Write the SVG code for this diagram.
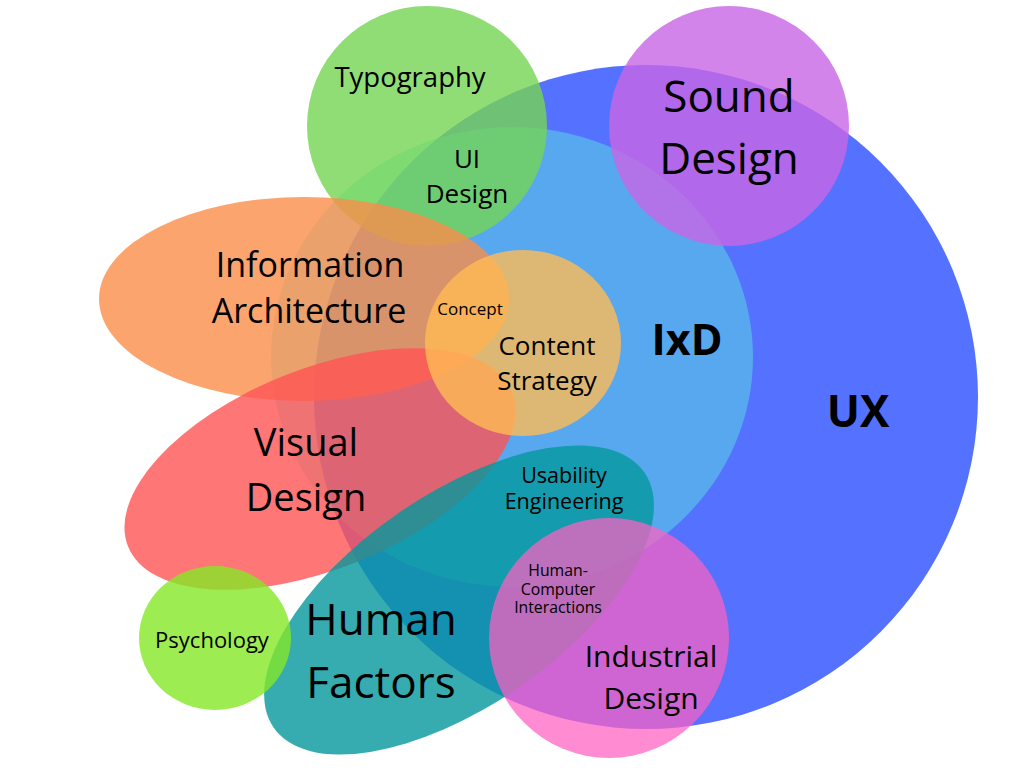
<svg xmlns="http://www.w3.org/2000/svg" width="1024" height="768" viewBox="0 0 1024 768">
<style>
text{font-family:"Open Sans","Liberation Sans",sans-serif;fill:#000;text-anchor:middle}
.b{font-weight:bold}
.ov{opacity:0.8}
</style>
<rect width="1024" height="768" fill="#fff"/>
<g id="ux">
<circle cx="646" cy="397" r="332" fill="#5472FF"/>
<text class="b" x="858" y="427" font-size="44">UX</text>
</g>
<g id="ixd">
<ellipse cx="512" cy="357" rx="241" ry="230" fill="#5CDEE1" opacity="0.5"/>
<text class="b" x="687" y="355" font-size="43">IxD</text>
</g>
<g id="typography">
<circle class="ov" cx="427" cy="126" r="120" fill="#74D452"/>
<text x="410" y="87" font-size="27.5">Typography</text>
</g>
<g id="sound-design">
<circle class="ov" cx="729" cy="126" r="120" fill="#C865E5"/>
<text x="729" y="112" font-size="44">Sound</text>
<text x="729" y="174" font-size="44">Design</text>
</g>
<g id="information-architecture">
<ellipse class="ov" cx="304" cy="299" rx="205" ry="102" fill="#FA8D4A"/>
<text x="310" y="277" font-size="34">Information</text>
<text x="309" y="323" font-size="34">Architecture</text>
</g>
<g id="visual-design">
<ellipse class="ov" cx="320" cy="469" rx="207" ry="100" transform="rotate(-22 320 469)" fill="#FF5454"/>
<text x="306" y="456" font-size="38">Visual</text>
<text x="306" y="511" font-size="38">Design</text>
</g>
<g id="content-strategy">
<ellipse class="ov" cx="523" cy="343" rx="98" ry="93" fill="#FFBC55"/>
<text x="547" y="355" font-size="26">Content</text>
<text x="547" y="390" font-size="26">Strategy</text>
</g>
<g id="human-factors">
<ellipse class="ov" cx="459" cy="600" rx="225" ry="106" transform="rotate(-34.5 459 600)" fill="#04979C"/>
<text x="381" y="635" font-size="44">Human</text>
<text x="381" y="698" font-size="44">Factors</text>
</g>
<g id="psychology">
<ellipse class="ov" cx="215" cy="638" rx="76" ry="72" fill="#84E827"/>
<text x="212" y="648" font-size="22">Psychology</text>
</g>
<g id="industrial-design">
<circle cx="609" cy="638" r="120" fill="#FF5FC0" opacity="0.72"/>
<text x="651" y="667" font-size="30">Industrial</text>
<text x="651" y="709" font-size="30">Design</text>
</g>
<g id="ui-design">
<text x="467" y="168" font-size="26">UI</text>
<text x="467" y="203" font-size="26">Design</text>
</g>
<g id="concept">
<text x="470" y="315" font-size="17">Concept</text>
</g>
<g id="usability-engineering">
<text x="564" y="483" font-size="21.5">Usability</text>
<text x="564" y="509" font-size="21.5">Engineering</text>
</g>
<g id="human-computer-interactions">
<text x="558" y="576" font-size="15.8">Human-</text>
<text x="558" y="595" font-size="15.8">Computer</text>
<text x="558" y="613" font-size="15.8">Interactions</text>
</g>
</svg>
